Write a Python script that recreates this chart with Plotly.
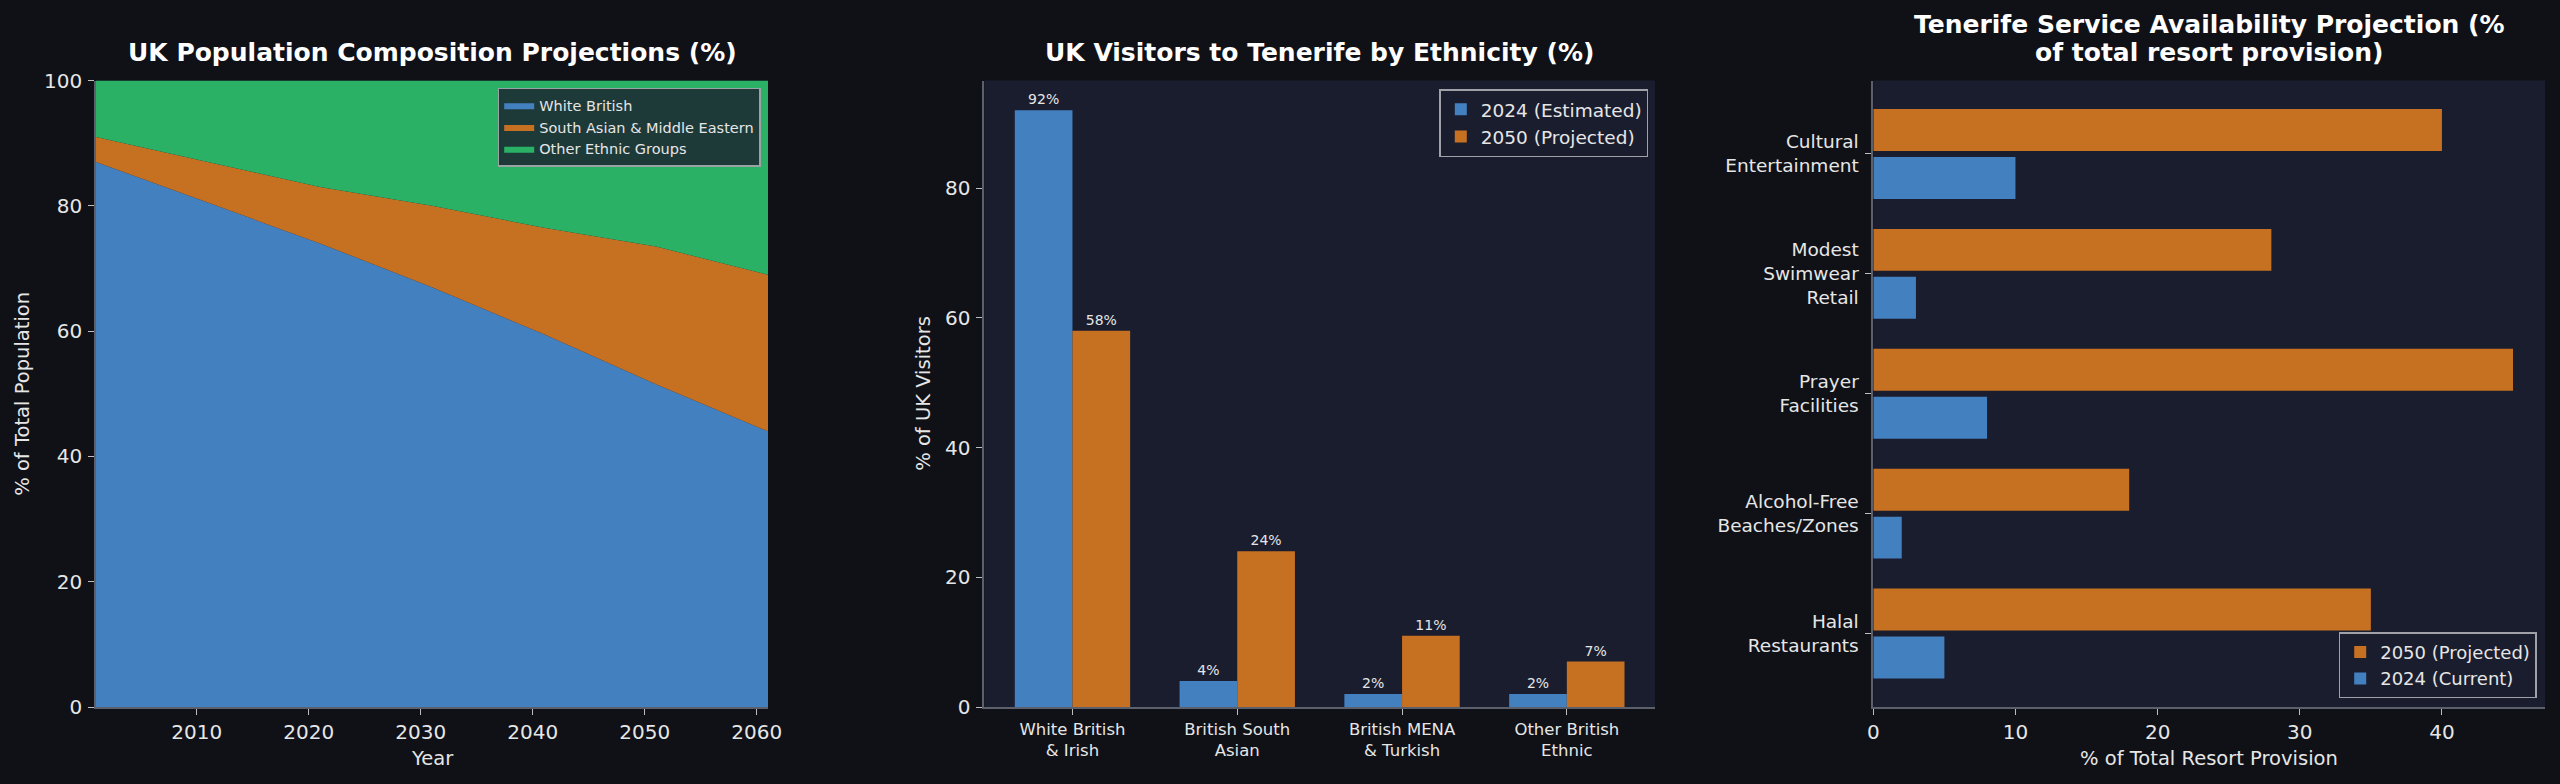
import plotly.graph_objects as go

# ---------------- data ----------------
years = [2001, 2011, 2021, 2031, 2041, 2051, 2061]
white_british = [87.0, 80.5, 74.0, 67.0, 59.5, 51.5, 44.0]
south_asian_me = [4.0, 6.5, 9.0, 13.0, 17.0, 22.0, 25.0]
other_ethnic = [9.0, 13.0, 17.0, 20.0, 23.5, 26.5, 31.0]
year_ticks = [2010, 2020, 2030, 2040, 2050, 2060]

visitor_groups = ["White British<br>& Irish", "British South<br>Asian",
                  "British MENA<br>& Turkish", "Other British<br>Ethnic"]
visitors_2024 = [92, 4, 2, 2]
visitors_2050 = [58, 24, 11, 7]

services = ["Halal<br>Restaurants", "Alcohol-Free<br>Beaches/Zones", "Prayer<br>Facilities",
            "Modest<br>Swimwear<br>Retail", "Cultural<br>Entertainment"]
services_2024 = [5, 2, 8, 3, 10]
services_2050 = [35, 18, 45, 28, 40]

# ---------------- style ----------------
W, H = 2560, 784
FONT = "DejaVu Sans"
BG = "#0f1117"
AX_BG = "#1a1d2e"
BLUE = "#4380c0"
ORANGE = "#c67022"
GREEN = "#2ab165"
TXT = "#e6e6e6"
SPINE = "#5c606d"
TICKC = "#bfbfbf"


def dx(a, b):
    return [a / W, b / W]


def dy(top, bottom):
    return [1 - bottom / H, 1 - top / H]


fig = go.Figure()

# ---- left: stacked area ----
fig.add_trace(go.Scatter(x=years, y=white_british, name="White British", stackgroup="pop",
                         mode="lines", line=dict(width=0, color=BLUE), fillcolor=BLUE,
                         xaxis="x", yaxis="y", legend="legend"))
fig.add_trace(go.Scatter(x=years, y=south_asian_me, name="South Asian & Middle Eastern", stackgroup="pop",
                         mode="lines", line=dict(width=0, color=ORANGE), fillcolor=ORANGE,
                         xaxis="x", yaxis="y", legend="legend"))
fig.add_trace(go.Scatter(x=years, y=other_ethnic, name="Other Ethnic Groups", stackgroup="pop",
                         mode="lines", line=dict(width=0, color=GREEN), fillcolor=GREEN,
                         xaxis="x", yaxis="y", legend="legend"))

# ---- middle: grouped bars ----
mid_x = list(range(len(visitor_groups)))
fig.add_trace(go.Bar(x=mid_x, y=visitors_2024, name="2024 (Estimated)", width=0.35, offset=-0.35,
                     marker=dict(color=BLUE, line=dict(width=0)),
                     text=[f"{v}%" for v in visitors_2024], textposition="outside",
                     textfont=dict(size=14, color=TXT, family=FONT), cliponaxis=False,
                     constraintext="none", xaxis="x2", yaxis="y2", legend="legend2"))
fig.add_trace(go.Bar(x=mid_x, y=visitors_2050, name="2050 (Projected)", width=0.35, offset=0.0,
                     marker=dict(color=ORANGE, line=dict(width=0)),
                     text=[f"{v}%" for v in visitors_2050], textposition="outside",
                     textfont=dict(size=14, color=TXT, family=FONT), cliponaxis=False,
                     constraintext="none", xaxis="x2", yaxis="y2", legend="legend2"))

# ---- right: horizontal bars ----
svc_y = list(range(len(services)))
fig.add_trace(go.Bar(y=svc_y, x=services_2050, orientation="h", name="2050 (Projected)",
                     width=0.35, offset=0.025, marker=dict(color=ORANGE, line=dict(width=0)),
                     xaxis="x3", yaxis="y3", legend="legend3"))
fig.add_trace(go.Bar(y=svc_y, x=services_2024, orientation="h", name="2024 (Current)",
                     width=0.35, offset=-0.375, marker=dict(color=BLUE, line=dict(width=0)),
                     xaxis="x3", yaxis="y3", legend="legend3"))

axis_common = dict(showline=True, linecolor=SPINE, linewidth=1.7, mirror=False,
                   ticks="outside", ticklen=6, tickwidth=1.3, tickcolor=TICKC,
                   showgrid=False, zeroline=False, automargin=False,
                   tickfont=dict(family=FONT, size=20, color=TXT))

fig.update_layout(
    width=W, height=H, autosize=False,
    margin=dict(l=0, r=0, t=0, b=0, pad=0, autoexpand=False),
    paper_bgcolor=BG, plot_bgcolor=AX_BG,
    font=dict(family=FONT, color=TXT),
    barmode="overlay",
    showlegend=True,
    xaxis=dict(axis_common, domain=dx(96, 768), anchor="y", range=[2001, 2061],
               tickmode="array", tickvals=year_ticks, ticklabelstandoff=0),
    yaxis=dict(axis_common, domain=dy(80.5, 707), anchor="x", range=[0, 100],
               tickmode="array", tickvals=[0, 20, 40, 60, 80, 100], ticklabelstandoff=2),
    xaxis2=dict(axis_common, domain=dx(984.3, 1655), anchor="y2", range=[-0.535, 3.535],
                tickmode="array", tickvals=mid_x, ticktext=visitor_groups,
                tickfont=dict(family=FONT, size=16.5, color=TXT), ticklabelstandoff=0),
    yaxis2=dict(axis_common, domain=dy(80.5, 707), anchor="x2", range=[0, 96.6],
                tickmode="array", tickvals=[0, 20, 40, 60, 80], ticklabelstandoff=2),
    xaxis3=dict(axis_common, domain=dx(1873.3, 2545), anchor="y3", range=[0, 47.25],
                tickmode="array", tickvals=[0, 10, 20, 30, 40], ticklabelstandoff=0),
    yaxis3=dict(axis_common, domain=dy(80.5, 707), anchor="x3", range=[-0.6125, 4.6125],
                tickmode="array", tickvals=svc_y, ticktext=services,
                tickfont=dict(family=FONT, size=18.5, color=TXT), ticklabelstandoff=3),
    legend=dict(x=760.7 / W, y=1 - 87.7 / H, xanchor="right", yanchor="top",
                bgcolor="#1d3a39", bordercolor="#9aa3a3", borderwidth=1.5,
                font=dict(family=FONT, size=14.5, color=TXT), traceorder="normal",
                itemwidth=30, tracegroupgap=0),
    legend2=dict(x=1648.3 / W, y=1 - 89.3 / H, xanchor="right", yanchor="top",
                 bgcolor=AX_BG, bordercolor="#a0a0a8", borderwidth=1.5,
                 font=dict(family=FONT, size=18.5, color=TXT), traceorder="normal",
                 itemwidth=30),
    legend3=dict(x=2536.7 / W, y=1 - 698.3 / H, xanchor="right", yanchor="bottom",
                 bgcolor=AX_BG, bordercolor="#a0a0a8", borderwidth=1.5,
                 font=dict(family=FONT, size=18, color=TXT), traceorder="normal",
                 itemwidth=30),
)

title_font = dict(family=FONT, size=25, color="#ffffff", weight="bold")
label_font = dict(family=FONT, size=19.5, color=TXT)

annotations = [
    dict(text="UK Population Composition Projections (%)", x=432 / W, y=1 - 52.5 / H,
         font=title_font),
    dict(text="UK Visitors to Tenerife by Ethnicity (%)", x=1319.7 / W, y=1 - 52.5 / H,
         font=title_font),
    dict(text="Tenerife Service Availability Projection (%", x=2209 / W, y=1 - 24.5 / H,
         font=title_font),
    dict(text="of total resort provision)", x=2209 / W, y=1 - 52.5 / H, font=title_font),
    dict(text="% of Total Population", x=23 / W, y=1 - 393.8 / H, textangle=-90, font=label_font),
    dict(text="Year", x=432 / W, y=1 - 758 / H, font=label_font),
    dict(text="% of UK Visitors", x=924 / W, y=1 - 393.8 / H, textangle=-90, font=label_font),
    dict(text="% of Total Resort Provision", x=2209 / W, y=1 - 758 / H, font=label_font),
]
for a in annotations:
    a.update(xref="paper", yref="paper", xanchor="center", yanchor="middle", showarrow=False)
fig.update_layout(annotations=annotations)

page_fix = (
    "document.documentElement.style.margin='0';"
    "document.documentElement.style.padding='0';"
    "document.documentElement.style.overflow='hidden';"
    "document.documentElement.style.background='#0f1117';"
    "document.body.style.margin='0';document.body.style.padding='0';"
    "document.body.style.overflow='hidden';"
    "document.body.style.background='#0f1117';"
    "var gd=document.getElementById('{plot_id}');"
    "gd.style.position='fixed';gd.style.left='0px';gd.style.top='0px';"
)
fig.write_html("out.html", post_script=page_fix, config={"displayModeBar": False})
